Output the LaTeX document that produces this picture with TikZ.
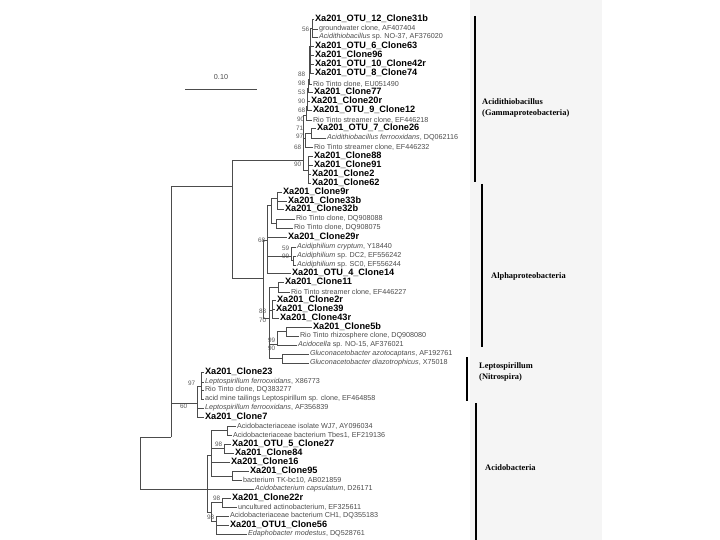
\documentclass[tikz,border=0pt]{standalone}
\usepackage{fontspec}
\setmainfont{Liberation Sans}
\newfontfamily\grpfont{Liberation Serif}
\begin{document}
\begin{tikzpicture}[x=1pt, y=-1pt,
  clone/.style={anchor=west, inner sep=0.8pt, font=\fontsize{9.2}{9}\selectfont\bfseries},
  refseq/.style={anchor=west, inner sep=0.8pt, text=black!70, font=\fontsize{7.2}{7}\selectfont},
  boot/.style={anchor=east, inner sep=0.5pt, text=black!65, font=\fontsize{6.4}{6}\selectfont},
  br/.style={draw=black!70, line width=0.5pt},
  group/.style={anchor=west, align=left, inner sep=0pt, font=\grpfont\fontsize{8.4}{10.5}\selectfont\bfseries},
  bar/.style={line width=2pt}]
	\useasboundingbox (0,0) rectangle (720,540);
	\fill [black!4] (470,0) rectangle (602,540);

	% scale bar
	\coordinate (sb1) at (185,89);
	\coordinate (sb2) at (257,89);
	\draw [br] (sb1) -- (sb2);
	\node [refseq, anchor=center] (sbl) at (221,77) {0.10};

	% backbone
	\coordinate (root) at (140,463);
	\coordinate (P) at (171,437);
	\coordinate (ga) at (232,186);
	\coordinate (gam) at (303,160);
	\coordinate (alp) at (263,278);
	\coordinate (nitro) at (197,403);
	\coordinate (acido) at (207,489);

	% Acidithiobacillus
	\node [clone] (l1) at (314,19) {Xa201\_OTU\_12\_Clone31b};
	\node [refseq] (l2) at (318,29) {groundwater clone, AF407404};
	\node [refseq] (l3) at (318,37) {\textit{Acidithiobacillus} sp. NO-37, AF376020};
	\node [clone] (l4) at (314,46) {Xa201\_OTU\_6\_Clone63};
	\node [clone] (l5) at (314,55) {Xa201\_Clone96};
	\node [clone] (l6) at (314,64) {Xa201\_OTU\_10\_Clone42r};
	\node [clone] (l7) at (314,73) {Xa201\_OTU\_8\_Clone74};
	\node [refseq] (l8) at (312,84) {Rio Tinto clone, EU051490};
	\node [clone] (l9) at (313,92) {Xa201\_Clone77};
	\node [clone] (l10) at (310,101) {Xa201\_Clone20r};
	\node [clone] (l11) at (312,110) {Xa201\_OTU\_9\_Clone12};
	\node [refseq] (l12) at (312,120) {Rio Tinto streamer clone, EF446218};
	\node [clone] (l13) at (316,128) {Xa201\_OTU\_7\_Clone26};
	\node [refseq] (l14) at (326,138) {\textit{Acidithiobacillus ferrooxidans}, DQ062116};
	\node [refseq] (l15) at (313,147) {Rio Tinto streamer clone, EF446232};
	\node [clone] (l16) at (313,156) {Xa201\_Clone88};
	\node [clone] (l17) at (313,165) {Xa201\_Clone91};
	\node [clone] (l18) at (311,174) {Xa201\_Clone2};
	\node [clone] (l19) at (311,183) {Xa201\_Clone62};

	\coordinate (g8) at (312,28);
	\coordinate (g7) at (310,46);
	\coordinate (g6) at (309,79);
	\coordinate (g5) at (308,88);
	\coordinate (g4) at (307,97);
	\coordinate (g3) at (307,106);
	\coordinate (g2) at (306,115);
	\coordinate (g13) at (311,133);
	\coordinate (g1) at (305,138);
	\coordinate (gb) at (308,170);

	% Alphaproteobacteria
	\node [clone] (l20) at (282,192) {Xa201\_Clone9r};
	\node [clone] (l21) at (287,201) {Xa201\_Clone33b};
	\node [clone] (l22) at (284,209) {Xa201\_Clone32b};
	\node [refseq] (l23) at (295,219) {Rio Tinto clone, DQ908088};
	\node [refseq] (l24) at (293,228) {Rio Tinto clone, DQ908075};
	\node [clone] (l25) at (287,237) {Xa201\_Clone29r};
	\node [refseq] (l26) at (296,247) {\textit{Acidiphilium cryptum}, Y18440};
	\node [refseq] (l27) at (296,256) {\textit{Acidiphilium} sp. DC2, EF556242};
	\node [refseq] (l28) at (296,265) {\textit{Acidiphilium} sp. SC0, EF556244};
	\node [clone] (l29) at (291,273) {Xa201\_OTU\_4\_Clone14};
	\node [clone] (l30) at (284,282) {Xa201\_Clone11};
	\node [refseq] (l31) at (290,292) {Rio Tinto streamer clone, EF446227};
	\node [clone] (l32) at (276,300) {Xa201\_Clone2r};
	\node [clone] (l33) at (275,309) {Xa201\_Clone39};
	\node [clone] (l34) at (279,318) {Xa201\_Clone43r};
	\node [clone] (l35) at (312,327) {Xa201\_Clone5b};
	\node [refseq] (l36) at (299,336) {Rio Tinto rhizosphere clone, DQ908080};
	\node [refseq] (l37) at (297,345) {\textit{Acidocella} sp. NO-15, AF376021};
	\node [refseq] (l38) at (309,354) {\textit{Gluconacetobacter azotocaptans}, AF192761};
	\node [refseq] (l39) at (309,363) {\textit{Gluconacetobacter diazotrophicus}, X75018};

	\coordinate (a1) at (267,240);
	\coordinate (a2) at (271,205);
	\coordinate (a2a) at (277,198);
	\coordinate (a2b) at (276,223);
	\coordinate (a3) at (291,256);
	\coordinate (a3b) at (293,260);
	\coordinate (a4) at (269,318);
	\coordinate (a5) at (278,287);
	\coordinate (a6) at (272,310);
	\coordinate (a7) at (277,344);
	\coordinate (a7b) at (286,331);
	\coordinate (a8) at (282,358);

	% Leptospirillum
	\node [clone] (l40) at (204,372) {Xa201\_Clone23};
	\node [refseq] (l41) at (204,382) {\textit{Leptospirillum ferrooxidans}, X86773};
	\node [refseq] (l42) at (204,390) {Rio Tinto clone, DQ383277};
	\node [refseq] (l43) at (204,399) {acid mine tailings Leptospirillum sp. clone, EF464858};
	\node [refseq] (l44) at (204,408) {\textit{Leptospirillum ferrooxidans}, AF356839};
	\node [clone] (l45) at (204,417) {Xa201\_Clone7};

	\coordinate (n1) at (201,386);

	% Acidobacteria
	\node [refseq] (l46) at (236,426) {Acidobacteriaceae isolate WJ7, AY096034};
	\node [refseq] (l47) at (232,435) {Acidobacteriaceae bacterium Tbes1, EF219136};
	\node [clone] (l48) at (231,444) {Xa201\_OTU\_5\_Clone27};
	\node [clone] (l49) at (234,453) {Xa201\_Clone84};
	\node [clone] (l50) at (230,462) {Xa201\_Clone16};
	\node [clone] (l51) at (249,471) {Xa201\_Clone95};
	\node [refseq] (l52) at (242,480) {bacterium TK-bc10, AB021859};
	\node [refseq] (l53) at (254,489) {\textit{Acidobacterium capsulatum}, D26171};
	\node [clone] (l54) at (231,498) {Xa201\_Clone22r};
	\node [refseq] (l55) at (237,507) {uncultured actinobacterium, EF325611};
	\node [refseq] (l56) at (229,516) {Acidobacteriaceae bacterium CH1, DQ355183};
	\node [clone] (l57) at (229,525) {Xa201\_OTU1\_Clone56};
	\node [refseq] (l58) at (247,534) {\textit{Edaphobacter modestus}, DQ528761};

	\coordinate (c1) at (211,455);
	\coordinate (c2) at (227,430);
	\coordinate (c3) at (224,448);
	\coordinate (c4) at (232,476);
	\coordinate (c5) at (211,512);
	\coordinate (c6) at (222,502);
	\coordinate (c7) at (216,521);

	% bootstrap values
	\node [boot] (b1) at (310,29) {56};
	\node [boot] (b2) at (306,74) {88};
	\node [boot] (b3) at (306,83) {98};
	\node [boot] (b4) at (306,92) {53};
	\node [boot] (b5) at (306,101) {90};
	\node [boot] (b6) at (306,110) {68};
	\node [boot] (b7) at (305,119) {90};
	\node [boot] (b8) at (304,128) {71};
	\node [boot] (b9) at (304,136) {97};
	\node [boot] (b10) at (302,147) {68};
	\node [boot] (b11) at (302,164) {90};
	\node [boot] (b12) at (266,240) {68};
	\node [boot] (b13) at (290,248) {59};
	\node [boot] (b14) at (290,256) {99};
	\node [boot] (b15) at (267,311) {88};
	\node [boot] (b16) at (267,320) {70};
	\node [boot] (b17) at (276,340) {99};
	\node [boot] (b18) at (276,348) {90};
	\node [boot] (b19) at (196,383) {97};
	\node [boot] (b20) at (188,406) {60};
	\node [boot] (b21) at (223,444) {98};
	\node [boot] (b22) at (221,498) {98};
	\node [boot] (b23) at (215,517) {98};

	% branches
	\begin{scope}[br]
		\draw (root) |- (P);
		\draw (root) |- (acido);
		\draw (P) |- (ga);
		\draw (P) |- (nitro);
		\draw (ga) |- (gam);
		\draw (ga) |- (alp);

		\draw (gam) |- (g2);
		\draw (gam) |- (g1);
		\draw (gam) |- (gb);
		\draw (g2) |- (l12.west);
		\draw (g2) |- (g3);
		\draw (g3) |- (l11.west);
		\draw (g3) |- (g4);
		\draw (g4) |- (l10.west);
		\draw (g4) |- (g5);
		\draw (g5) |- (l9.west);
		\draw (g5) |- (g6);
		\draw (g6) |- (l8.west);
		\draw (g6) |- (g7);
		\draw (g7) |- (g8);
		\draw (g7) |- (l4.west);
		\draw (g7) |- (l5.west);
		\draw (g7) |- (l6.west);
		\draw (g7) |- (l7.west);
		\draw (g8) |- (l1.west);
		\draw (g8) |- (l2.west);
		\draw (g8) |- (l3.west);
		\draw (g1) |- (g13);
		\draw (g1) |- (l15.west);
		\draw (g13) |- (l13.west);
		\draw (g13) |- (l14.west);
		\draw (gb) |- (l16.west);
		\draw (gb) |- (l17.west);
		\draw (gb) |- (l18.west);
		\draw (gb) |- (l19.west);

		\draw (alp) |- (a1);
		\draw (alp) |- (a4);
		\draw (a1) |- (a2);
		\draw (a1) |- (l25.west);
		\draw (a1) |- (a3);
		\draw (a1) |- (l29.west);
		\draw (a2) |- (a2a);
		\draw (a2) |- (a2b);
		\draw (a2a) |- (l20.west);
		\draw (a2a) |- (l21.west);
		\draw (a2a) |- (l22.west);
		\draw (a2b) |- (l23.west);
		\draw (a2b) |- (l24.west);
		\draw (a3) |- (l26.west);
		\draw (a3) |- (a3b);
		\draw (a3b) |- (l27.west);
		\draw (a3b) |- (l28.west);
		\draw (a4) |- (a5);
		\draw (a4) |- (a6);
		\draw (a4) |- (a7);
		\draw (a4) |- (a8);
		\draw (a5) |- (l30.west);
		\draw (a5) |- (l31.west);
		\draw (a6) |- (l32.west);
		\draw (a6) |- (l33.west);
		\draw (a6) |- (l34.west);
		\draw (a7) |- (a7b);
		\draw (a7) |- (l37.west);
		\draw (a7b) |- (l35.west);
		\draw (a7b) |- (l36.west);
		\draw (a8) |- (l38.west);
		\draw (a8) |- (l39.west);

		\draw (nitro) |- (n1);
		\draw (nitro) |- (l44.west);
		\draw (nitro) |- (l45.west);
		\draw (n1) |- (l40.west);
		\draw (n1) |- (l41.west);
		\draw (n1) |- (l42.west);
		\draw (n1) |- (l43.west);

		\draw (acido) |- (c1);
		\draw (acido) |- (l53.west);
		\draw (acido) |- (c5);
		\draw (c1) |- (c2);
		\draw (c1) |- (c3);
		\draw (c1) |- (l50.west);
		\draw (c1) |- (c4);
		\draw (c2) |- (l46.west);
		\draw (c2) |- (l47.west);
		\draw (c3) |- (l48.west);
		\draw (c3) |- (l49.west);
		\draw (c4) |- (l51.west);
		\draw (c4) |- (l52.west);
		\draw (c5) |- (c6);
		\draw (c5) |- (c7);
		\draw (c6) |- (l54.west);
		\draw (c6) |- (l55.west);
		\draw (c7) |- (l56.west);
		\draw (c7) |- (l57.west);
		\draw (c7) |- (l58.west);
	\end{scope}

	% groups
	\coordinate (ac1) at (475,16);
	\coordinate (ac2) at (475,182);
	\coordinate (al1) at (482,184);
	\coordinate (al2) at (482,347);
	\coordinate (le1) at (467,357);
	\coordinate (le2) at (467,401);
	\coordinate (ab1) at (476,403);
	\coordinate (ab2) at (476,540);
	\draw [bar] (ac1) -- (ac2);
	\draw [bar] (al1) -- (al2);
	\draw [bar] (le1) -- (le2);
	\draw [bar] (ab1) -- (ab2);
	\node [group] (gac) at (482,108) {Acidithiobacillus\\(Gammaproteobacteria)};
	\node [group] (gal) at (491,276) {Alphaproteobacteria};
	\node [group] (gle) at (479,372) {Leptospirillum\\(Nitrospira)};
	\node [group] (gab) at (485,468) {Acidobacteria};
\end{tikzpicture}
\end{document}
